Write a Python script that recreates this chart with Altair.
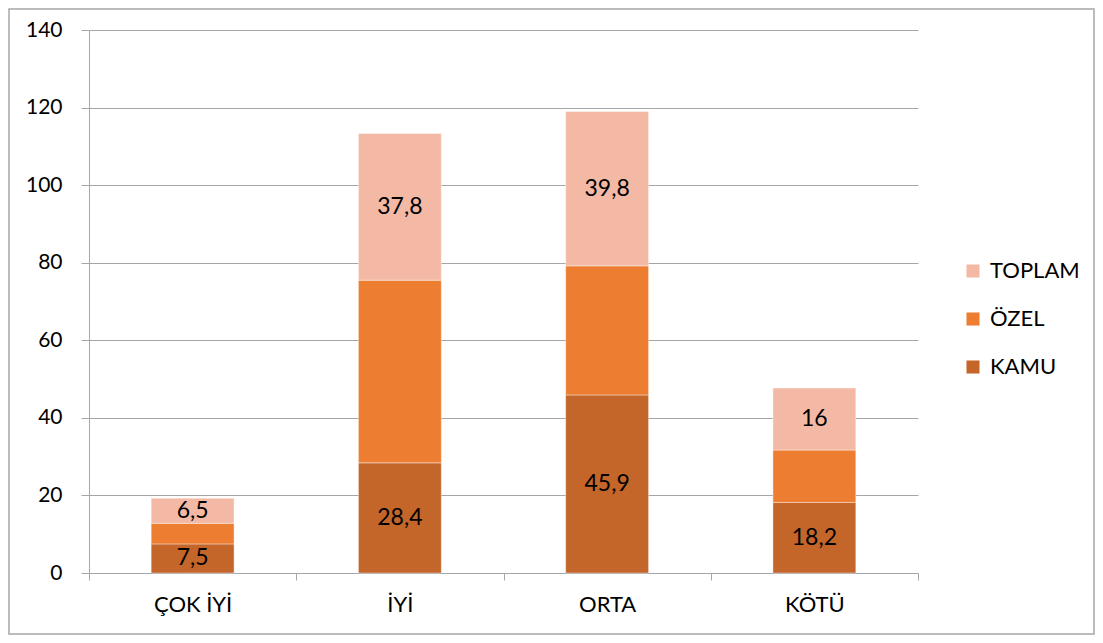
import altair as alt
import pandas as pd

categories = ["ÇOK İYİ", "İYİ", "ORTA", "KÖTÜ"]
series = ["KAMU", "ÖZEL", "TOPLAM"]
kamu = [7.5, 28.4, 45.9, 18.2]
ozel = [5.3, 47.1, 33.3, 13.5]
toplam = [6.5, 37.8, 39.8, 16.0]
kamu_labels = ["7,5", "28,4", "45,9", "18,2"]
toplam_labels = ["6,5", "37,8", "39,8", "16"]
colors = ["#C4652A", "#ED7D31", "#F4B9A5"]

rows = []
for i, c in enumerate(categories):
    base = 0.0
    for s, vals, labs in [("KAMU", kamu, kamu_labels), ("ÖZEL", ozel, None), ("TOPLAM", toplam, toplam_labels)]:
        v = vals[i]
        rows.append({"cat": c, "series": s, "y0": base, "y1": base + v,
                     "mid": base + v / 2, "label": labs[i] if labs else ""})
        base += v
df = pd.DataFrame(rows)

FONT = "Lato"

x = alt.X("cat:N", sort=categories, title=None,
          scale=alt.Scale(paddingInner=0, paddingOuter=0),
          axis=alt.Axis(tickBand="extent", labelAngle=0, domainColor="#A6A6A6",
                        tickColor="#A6A6A6", tickSize=7, labelPadding=14,
                        labelFontSize=22, labelColor="#000000", labelFont=FONT,
                        grid=False))
y = alt.Y("y0:Q", title=None, scale=alt.Scale(domain=[0, 140], nice=False),
          axis=alt.Axis(values=list(range(0, 141, 20)), grid=True, gridColor="#A6A6A6",
                        domainColor="#A6A6A6", tickColor="#A6A6A6", tickSize=8,
                        labelPadding=19, labelFontSize=21, labelColor="#000000",
                        labelFont=FONT))

bars = alt.Chart(df).mark_bar(width=alt.RelativeBandSize(0.4), stroke="white",
                              strokeWidth=0.8, strokeOpacity=0.5).encode(
    x=x, y=y, y2="y1:Q",
    color=alt.Color("series:N", scale=alt.Scale(domain=series, range=colors),
                    legend=alt.Legend(title=None, values=["TOPLAM", "ÖZEL", "KAMU"],
                                      orient="none", legendX=873, legendY=230,
                                      symbolType="square", symbolSize=170,
                                      symbolStrokeWidth=0, labelFontSize=22,
                                      labelFont=FONT, labelColor="#000000",
                                      rowPadding=26, labelOffset=6)),
)

texts = alt.Chart(df).mark_text(fontSize=23, font=FONT, color="#000000").encode(
    x=alt.X("cat:N", sort=categories), y=alt.Y("mid:Q"), text="label:N")

frame = alt.Chart(pd.DataFrame({"a": [0]})).mark_rect(
    fill=None, stroke="#A6A6A6", strokeWidth=1.5, clip=False).encode(
    x=alt.value(-80), x2=alt.value(1005), y=alt.value(-21), y2=alt.value(604))

chart = alt.layer(bars, texts, frame).properties(
    width=829, height=543,
    autosize=alt.AutoSizeParams(type="none"),
    padding={"left": 81, "top": 22, "right": 177, "bottom": 62},
).configure_view(stroke=None)

chart.save("out.html", embed_options={"renderer": "svg", "actions": False})
